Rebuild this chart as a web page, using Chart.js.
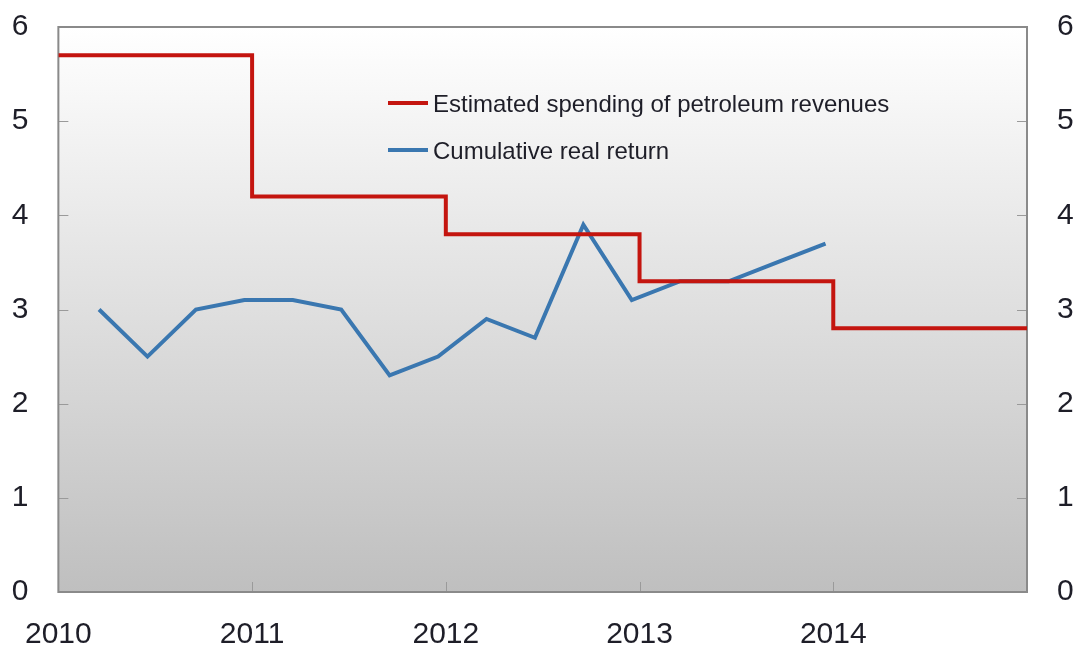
<!DOCTYPE html>
<html>
<head>
<meta charset="utf-8">
<script src="https://cdn.jsdelivr.net/npm/chart.js@4/dist/chart.umd.min.js"></script>
<style>
  html, body { margin: 0; padding: 0; background: #ffffff; }
  #wrap { width: 1078px; height: 647px; position: relative; }
</style>
</head>
<body>
<div id="wrap"><canvas id="c" width="1078" height="647"></canvas></div>
<script>
// ---- data ----
const spendingYears = [2010, 2011, 2012, 2013, 2014, 2015];
const spendingValues = [5.7, 4.2, 3.8, 3.3, 2.8, 2.8];

const returnDates = [2010.21, 2010.46, 2010.71, 2010.96, 2011.21, 2011.46, 2011.71, 2011.96,
                     2012.21, 2012.46, 2012.71, 2012.96, 2013.21, 2013.46, 2013.71, 2013.96];
const returnValues = [3.0, 2.5, 3.0, 3.1, 3.1, 3.0, 2.3, 2.5, 2.9, 2.7, 3.9, 3.1, 3.3, 3.3, 3.5, 3.7];

const xTickLabels = ['2010', '2011', '2012', '2013', '2014'];
const yTickValues = [0, 1, 2, 3, 4, 5, 6];

const seriesNames = ['Estimated spending of petroleum revenues', 'Cumulative real return'];
const seriesColors = ['#c4150f', '#3a77b0'];

const FONT = '"Liberation Sans", Arial, sans-serif';
const TEXT = '#1e1e28';

const bgPlugin = {
  id: 'bgFrame',
  beforeDatasetsDraw(chart) {
    const { ctx, chartArea: a, scales } = chart;
    ctx.save();
    const g = ctx.createLinearGradient(0, a.top, 0, a.bottom);
    g.addColorStop(0, '#ffffff');
    g.addColorStop(1, '#bfbfbf');
    ctx.fillStyle = g;
    ctx.fillRect(a.left, a.top, a.right - a.left, a.bottom - a.top);
    // inner tick marks
    ctx.strokeStyle = '#9a9a9a';
    ctx.lineWidth = 1;
    ctx.beginPath();
    yTickValues.forEach(v => {
      const y = Math.round(scales.y.getPixelForValue(v)) + 0.5;
      ctx.moveTo(a.left, y); ctx.lineTo(a.left + 10, y);
      ctx.moveTo(a.right, y); ctx.lineTo(a.right - 10, y);
    });
    xTickLabels.forEach(l => {
      const x = Math.round(scales.x.getPixelForValue(Number(l))) + 0.5;
      ctx.moveTo(x, a.bottom); ctx.lineTo(x, a.bottom - 10);
    });
    ctx.stroke();
    // frame
    ctx.strokeStyle = '#8a8a8a';
    ctx.lineWidth = 2;
    ctx.strokeRect(a.left, a.top, a.right - a.left, a.bottom - a.top);
    ctx.restore();
  },
  afterDatasetsDraw(chart) {
    const { ctx } = chart;
    ctx.save();
    ctx.font = '24px ' + FONT;
    ctx.textBaseline = 'alphabetic';
    ctx.textAlign = 'left';
    chart.data.datasets.forEach((ds, i) => {
      const y = 103 + i * 47;
      const x0 = 388;
      ctx.strokeStyle = ds.borderColor;
      ctx.lineWidth = 4;
      ctx.beginPath();
      ctx.moveTo(x0, y); ctx.lineTo(x0 + 40, y);
      ctx.stroke();
      ctx.fillStyle = TEXT;
      ctx.fillText(ds.label, x0 + 45, y + 9);
    });
    ctx.restore();
  }
};

function fixY(width) {
  return function (scale) {
    scale.width = width;
    scale.paddingTop = 0;
    scale.paddingBottom = 0;
  };
}

new Chart(document.getElementById('c'), {
  type: 'line',
  data: {
    datasets: [
      {
        label: seriesNames[0],
        data: spendingYears.map((x, i) => ({ x: x, y: spendingValues[i] })),
        borderColor: seriesColors[0],
        backgroundColor: seriesColors[0],
        borderWidth: 4,
        stepped: true,
        pointRadius: 0,
        fill: false,
        yAxisID: 'y'
      },
      {
        label: seriesNames[1],
        data: returnDates.map((x, i) => ({ x: x, y: returnValues[i] })),
        borderColor: seriesColors[1],
        backgroundColor: seriesColors[1],
        borderWidth: 4,
        tension: 0,
        pointRadius: 0,
        fill: false,
        yAxisID: 'y'
      }
    ]
  },
  options: {
    responsive: false,
    animation: false,
    devicePixelRatio: 1,
    layout: { padding: { top: 27, left: 0, right: 0, bottom: 0 } },
    plugins: { legend: { display: false }, tooltip: { enabled: false } },
    scales: {
      x: {
        type: 'linear',
        min: 2010, max: 2015,
        grid: { display: false, drawTicks: false },
        border: { display: false },
        afterBuildTicks(scale) {
          scale.ticks = [2010, 2011, 2012, 2013, 2014, 2015].map(v => ({ value: v }));
        },
        ticks: {
          padding: 25,
          maxRotation: 0,
          autoSkip: false,
          color: TEXT,
          font: { family: FONT, size: 30 },
          callback: (v) => { const i = v - 2010; return xTickLabels[i] !== undefined ? xTickLabels[i] : ''; }
        },
        afterFit(scale) { scale.height = 55; }
      },
      y: {
        position: 'left',
        min: 0, max: 6,
        grid: { display: false, drawTicks: false },
        border: { display: false },
        ticks: { stepSize: 1, padding: 30, color: TEXT, font: { family: FONT, size: 30 } },
        afterFit: fixY(56)
      },
      y2: {
        position: 'right',
        min: 0, max: 6,
        grid: { display: false, drawTicks: false },
        border: { display: false },
        ticks: { stepSize: 1, padding: 30, color: TEXT, font: { family: FONT, size: 30 } },
        afterFit: fixY(51)
      }
    }
  },
  plugins: [bgPlugin]
});
</script>
</body>
</html>
